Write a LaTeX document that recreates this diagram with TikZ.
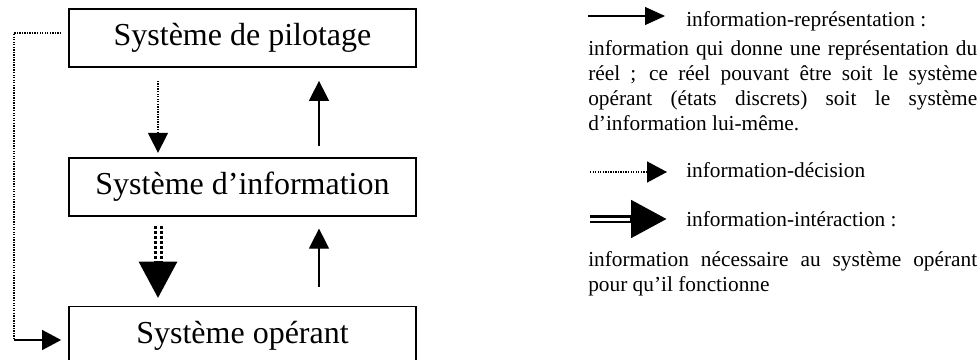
\documentclass[tikz,border=0pt]{standalone}
\usepackage{fontspec}
\setmainfont{Liberation Serif}
\usetikzlibrary{arrows.meta,positioning}

\begin{document}
\begin{tikzpicture}[x=0.75pt,y=-0.75pt,node distance=66.75pt,box/.style={rectangle,draw=black,line width=1.3pt,minimum width=260.25pt,minimum height=43.5pt,inner sep=0pt,font=\fontsize{24}{28}\selectfont},rep/.style={-{Triangle[length=15pt,width=15pt]},line width=0.9pt},dec/.style={-{Triangle[length=15pt,width=15pt]},line width=1pt,dash pattern=on 1pt off 0.9pt},inter/.style={-{Triangle[length=27.75pt,width=27pt]},line width=6.75pt,dash pattern=on 2.25pt off 1.5pt,postaction={draw=white,-,solid,line width=2.25pt,shorten >=34pt}},leginter/.style={-{Triangle[length=27pt,width=27pt]},line width=6pt,postaction={draw=white,-,line width=2.25pt,shorten >=27.5pt}},legend/.style={inner sep=0pt,font=\fontsize{16}{18.75}\selectfont},para/.style={legend,text width=291.75pt,align=justify}]
\useasboundingbox (0,0) rectangle (979,360);
\node[box] (pilot) at (242.5,38) {Système de pilotage};
\node[box,below=of pilot] (info) {Système d’information};
\node[box,below=of info] (oper) {Système opérant};
% verticales des fleches
\coordinate (lx) at (158,0);
\coordinate (rx) at (319,0);
\coordinate (fb) at (14,340);
\draw[dec,shorten <=9.75pt,shorten >=3pt] (pilot.south -| lx) -- (info.north -| lx);
\draw[rep,shorten <=8.25pt,shorten >=9.75pt] (info.north -| rx) -- (pilot.south -| rx);
\draw[rep,shorten <=14.25pt,shorten >=9pt] (oper.north -| rx) -- (info.south -| rx);
\draw[inter,shorten <=6.75pt,shorten >=5.25pt] (info.south -| lx) -- (oper.north -| lx);
% boucle de retour
\draw[dec,-] ([xshift=-5.25pt,yshift=3.75pt]pilot.west) -| (fb);
\draw[rep,-{Triangle[length=14.25pt,width=15pt]}] (fb) -- ([xshift=-5.25pt]oper.west |- fb);
% legende
\coordinate (ra) at (588,16);
\coordinate (rb) at (665,16);
\draw[rep,-{Triangle[length=15pt,width=13.5pt]}] (ra) -- (rb);
\node[legend,anchor=base west] (trep) at (686,27) {information-représentation :};
\node[para,anchor=base west] (prep) at (588,56) {information qui donne une représentation du\linebreak réel~; ce réel pouvant être soit le système\linebreak opérant (états discrets) soit le système\linebreak d’information lui-même.};
\coordinate (da) at (590,172);
\coordinate (db) at (667,172);
\draw[dec,-{Triangle[length=15pt,width=15.75pt]}] (da) -- (db);
\node[legend,anchor=base west] (tdec) at (686,177) {information-décision};
\coordinate (ia) at (590,219);
\coordinate (ib) at (667,219);
\draw[leginter] (ia) -- (ib);
\node[legend,anchor=base west] (tint) at (686,226) {information-intéraction :};
\node[para,anchor=base west] (pint) at (588,266) {information nécessaire au système opérant\linebreak pour qu’il fonctionne};
\end{tikzpicture}
\end{document}
